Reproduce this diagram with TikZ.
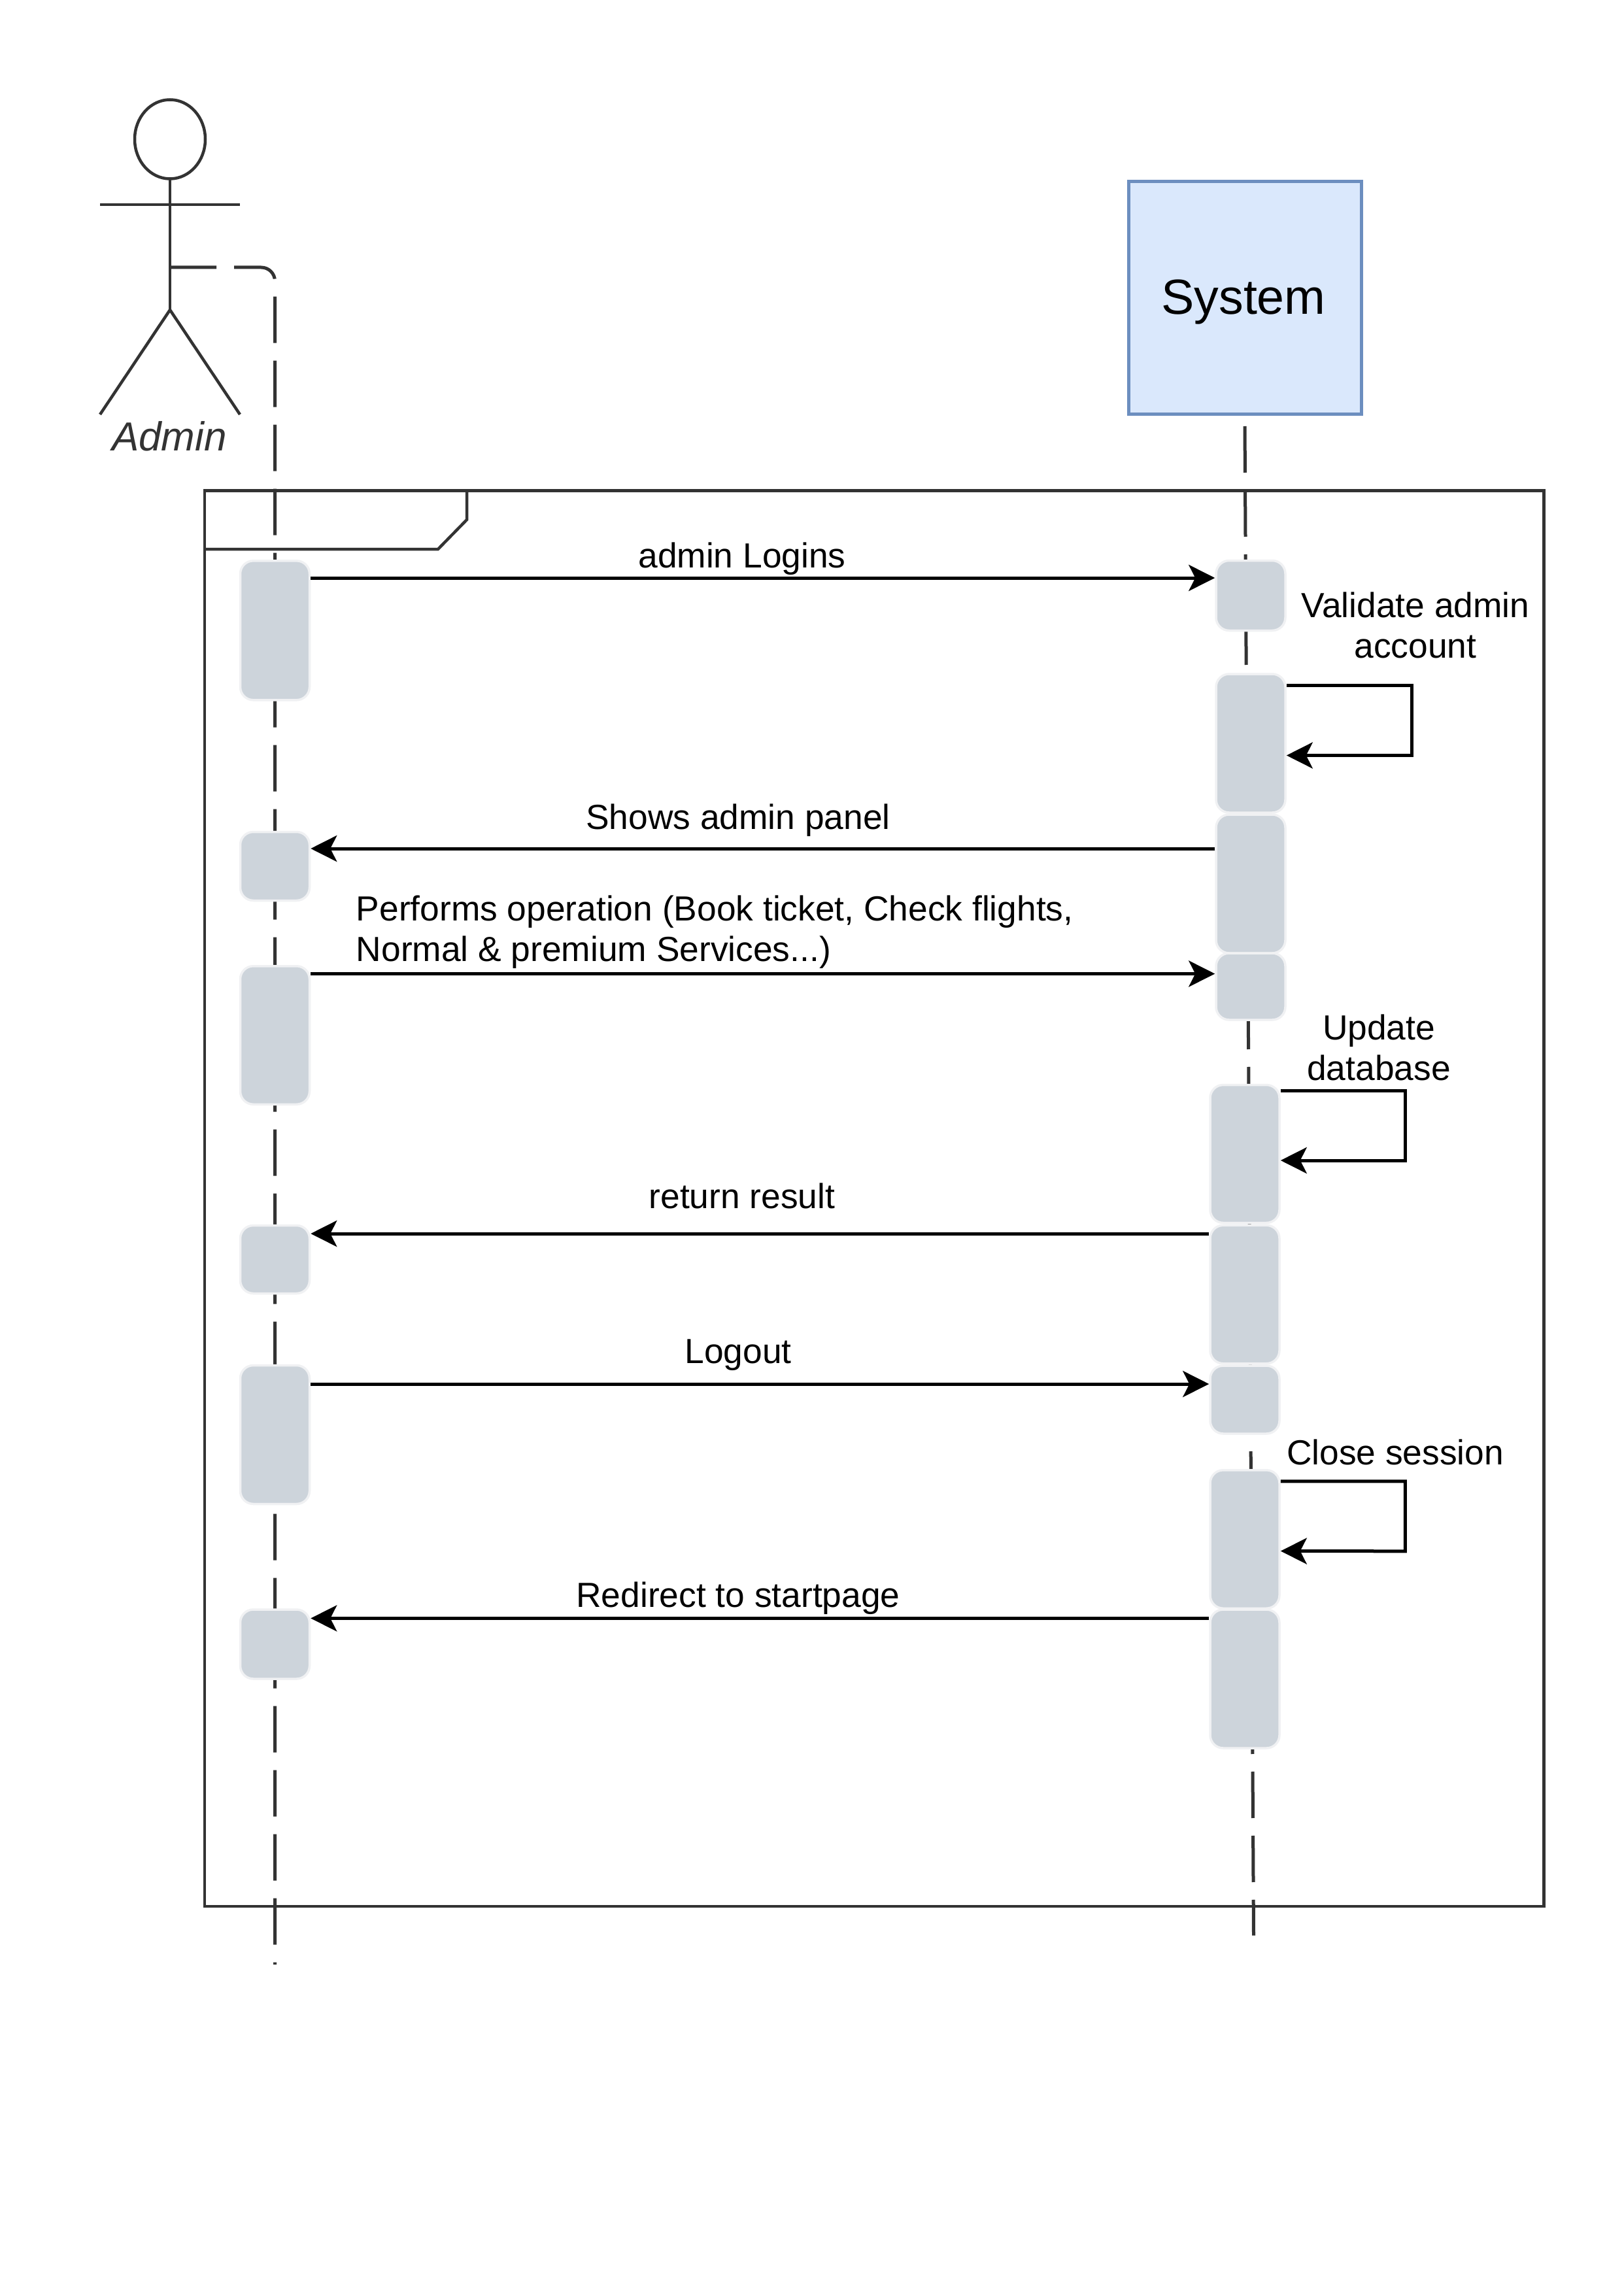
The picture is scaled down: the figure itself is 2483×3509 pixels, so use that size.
\documentclass[tikz,border=0pt]{standalone}
\usepackage{fontspec}
\setmainfont{Liberation Sans}
\usetikzlibrary{arrows.meta}
\definecolor{ink}{HTML}{333333}
\definecolor{actfill}{HTML}{CDD4DB}
\definecolor{actline}{HTML}{F0F1F3}
\definecolor{sysfill}{HTML}{DAE8FC}
\definecolor{sysline}{HTML}{6C8EBF}
\tikzset{
  shapeline/.style={draw=ink,line width=4.5*0.24pt},
  lifeline/.style={draw=ink,line width=5*0.24pt,dash pattern=on 71*0.24pt off 27*0.24pt},
  act/.style={draw=actline,fill=actfill,line width=3.5*0.24pt,rounded corners=20*0.24pt,
    minimum width=106*0.24pt,inner sep=0pt,shape=rectangle},
  msg/.style={draw=black,line width=5*0.24pt,line join=miter,
    -{Stealth[length=40*0.24pt,width=40*0.24pt,inset=10*0.24pt]}},
  lbl/.style={font=\fontsize{12.8pt}{15pt}\selectfont,text=black,inner sep=0pt,anchor=base},
  lblc/.style={lbl,align=center},
}
\begin{document}
\begin{tikzpicture}[x=0.24pt,y=-0.24pt]
\useasboundingbox (0,0) rectangle (2483,3509);
\fill[white] (0,0) rectangle (2483,3509);
% actor
\draw[shapeline] (260,213) ellipse [x radius=54,y radius=60.5];
\draw[shapeline] (260,273.5) -- (260,474);
\draw[shapeline] (153,313) -- (367,313);
\draw[shapeline] (153,634) -- (260,474) -- (367,634);
\node[font=\fontsize{14.88pt}{17pt}\selectfont\itshape,text=ink,inner sep=0pt,anchor=base] (admin) at (259,690) {Admin};
% system
\node[draw=sysline,fill=sysfill,line width=5*0.24pt,minimum width=356*0.24pt,minimum height=356*0.24pt,inner sep=0pt] (sys) at (1904.5,456) {};
\node[font=\fontsize{18.1pt}{21pt}\selectfont,text=black,inner sep=0pt,anchor=base] (systxt) at (1902,481) {System};
% lifelines
\coordinate (adminBody) at (260,409);
\coordinate (adminTurn) at (420.5,409);
\coordinate (adminEnd) at (420.5,3005);
\coordinate (sysStart) at (1904,652);
\coordinate (sysEnd) at (1917.5,2960.5);
\draw[lifeline,rounded corners=21*0.24pt] (adminBody) -- (adminTurn) -- (adminEnd);
\draw[lifeline] (sysStart) -- (sysEnd);
% frame
\draw[shapeline] (313,750.5) rectangle (2361.5,2916);
\draw[shapeline] (313,840) -- (670,840) -- (714,795) -- (714,750.5);
% activations, left
\node[act,minimum height=213*0.24pt] (b1) at (420.5,964.3) {};
\node[act,minimum height=105*0.24pt] (b2) at (420.5,1325) {};
\node[act,minimum height=211.5*0.24pt] (b3) at (420.5,1583.5) {};
\node[act,minimum height=104*0.24pt] (b4) at (420.5,1926.5) {};
\node[act,minimum height=212*0.24pt] (b5) at (420.5,2194.5) {};
\node[act,minimum height=106*0.24pt] (b6) at (420.5,2515) {};
% activations, right
\node[act,minimum height=107*0.24pt] (s1) at (1913,911) {};
\node[act,minimum height=212*0.24pt] (s2) at (1913,1137) {};
\node[act,minimum height=212*0.24pt] (s3) at (1913,1352) {};
\node[act,minimum height=102*0.24pt] (s4) at (1913,1509) {};
\node[act,minimum height=211*0.24pt] (s5) at (1904,1765) {};
\node[act,minimum height=211.5*0.24pt] (s6) at (1904,1980) {};
\node[act,minimum height=104*0.24pt] (s7) at (1904,2141) {};
\node[act,minimum height=211.5*0.24pt] (s8) at (1904,2354.5) {};
\node[act,minimum height=212*0.24pt] (s9) at (1904,2568) {};
% messages
\draw[msg] (b1.east |- 0,884) -- (s1.west |- 0,884);
\draw[msg] (s2.east |- 0,1048.5) -- ++(191.5,0) -- ++(0,107) -- (s2.east |- 0,1155.5);
\draw[msg] (s3.west |- 0,1298) -- (b2.east |- 0,1298);
\draw[msg] (b3.east |- 0,1489.5) -- (s4.west |- 0,1489.5);
\draw[msg] (s5.east |- 0,1668) -- ++(190.5,0) -- ++(0,107) -- (s5.east |- 0,1775);
\draw[msg] (s6.west |- 0,1887) -- (b4.east |- 0,1887);
\draw[msg] (b5.east |- 0,2117) -- (s7.west |- 0,2117);
\draw[msg] (s8.east |- 0,2265.8) -- ++(190.5,0) -- ++(0,107) -- (s8.east |- 0,2372.5);
\draw[msg] (s9.west |- 0,2475.4) -- (b6.east |- 0,2475.4);
% labels
\node[lbl] (t1) at (1135,868) {admin Logins};
\node[lbl] (t2a) at (2165,944) {Validate admin};
\node[lbl] (t2b) at (2165,1006.5) {account};
\node[lbl] (t3) at (1129,1268) {Shows admin panel};
\node[lbl,anchor=base west] (t4a) at (544,1408) {Performs operation (Book ticket, Check flights,};
\node[lbl,anchor=base west] (t4b) at (544,1470) {Normal \& premium Services...)};
\node[lbl] (t5a) at (2109,1590) {Update};
\node[lbl] (t5b) at (2109,1652) {database};
\node[lbl] (t6) at (1135,1848) {return result};
\node[lbl] (t7) at (1129,2085) {Logout};
\node[lbl] (t8) at (2134,2240) {Close session};
\node[lbl] (t9) at (1129,2458) {Redirect to startpage};
\end{tikzpicture}
\end{document}
